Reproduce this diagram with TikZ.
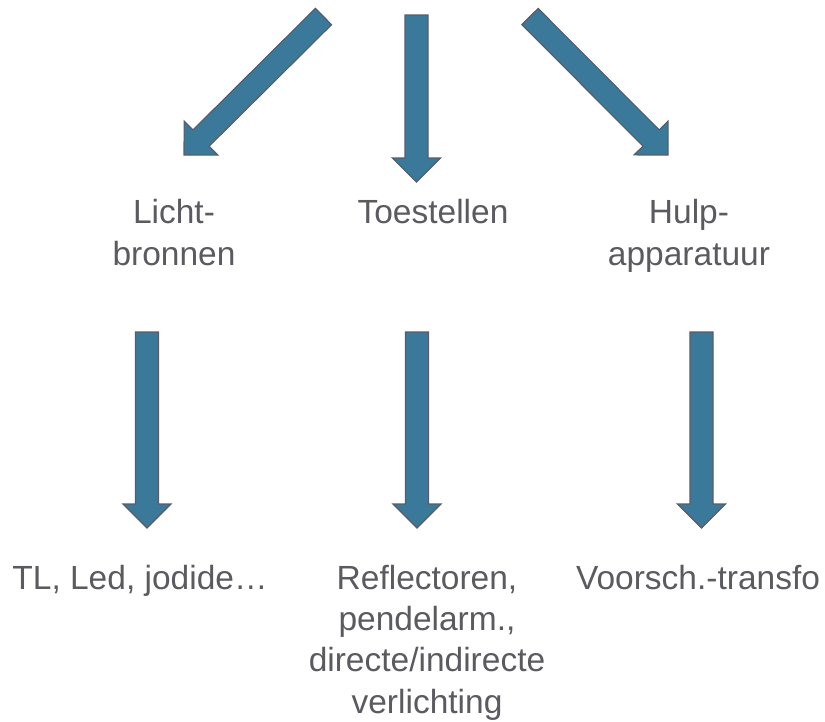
\documentclass[tikz,border=0pt]{standalone}
\usepackage{fontspec}
\setmainfont{Liberation Sans}
\usetikzlibrary{calc}

\definecolor{arrowfill}{RGB}{58,121,154}
\definecolor{arrowline}{RGB}{88,92,104}
\definecolor{labelgray}{RGB}{90,90,96}

% Block arrow from tail coordinate #1 to tip coordinate #2; #3 is a name prefix
\newcommand\blockarrow[3]{%
  \coordinate (#3-hb) at ($(#2)!24pt!(#1)$);
  \draw[blockarrowstyle]
    ($(#1)!11.5pt!90:(#2)$) --
    ($(#3-hb)!11.5pt!90:(#2)$) --
    ($(#3-hb)!24pt!90:(#2)$) --
    (#2) --
    ($(#3-hb)!24pt!-90:(#2)$) --
    ($(#3-hb)!11.5pt!-90:(#2)$) --
    ($(#1)!11.5pt!-90:(#2)$) -- cycle;
}

\tikzset{
  blockarrowstyle/.style={fill=arrowfill, draw=arrowline, line width=1.1pt, line join=miter},
  label/.style={text=labelgray, font=\fontsize{33.5pt}{42.5pt}\selectfont,
    align=center, inner sep=0pt, anchor=base},
  longlabel/.style={label, font=\fontsize{33.5pt}{41.3pt}\selectfont},
}

\begin{document}
\begin{tikzpicture}[x=1pt, y=-1pt]
  \useasboundingbox (0,0) rectangle (825,721);

  % arrow end points
  \coordinate (tl-a) at (323.5,16.5);  \coordinate (tl-b) at (184,155);
  \coordinate (tm-a) at (416.5,15);    \coordinate (tm-b) at (416.5,182);
  \coordinate (tr-a) at (530,16.5);    \coordinate (tr-b) at (668,155);
  \coordinate (bl-a) at (147,332);     \coordinate (bl-b) at (147,528);
  \coordinate (bm-a) at (417,332);     \coordinate (bm-b) at (417,528);
  \coordinate (br-a) at (701.5,332);   \coordinate (br-b) at (701.5,528);

  \blockarrow{tl-a}{tl-b}{tl}
  \blockarrow{tm-a}{tm-b}{tm}
  \blockarrow{tr-a}{tr-b}{tr}
  \blockarrow{bl-a}{bl-b}{bl}
  \blockarrow{bm-a}{bm-b}{bm}
  \blockarrow{br-a}{br-b}{br}

  % category labels (anchored at the baseline of their last line)
  \node[label] (licht) at (174,265.5) {Licht-\\bronnen};
  \node[label] (toestellen) at (433,223) {Toestellen};
  \node[label] (hulp) at (689,265.5) {Hulp-\\apparatuur};

  % example labels
  \node[label] (tl) at (140,589) {TL, Led, jodide…};
  \node[longlabel] (refl) at (427,713) {Reflectoren,\\pendelarm.,\\directe/indirecte\\verlichting};
  \node[label] (voorsch) at (698,589) {Voorsch.-transfo};
\end{tikzpicture}
\end{document}
